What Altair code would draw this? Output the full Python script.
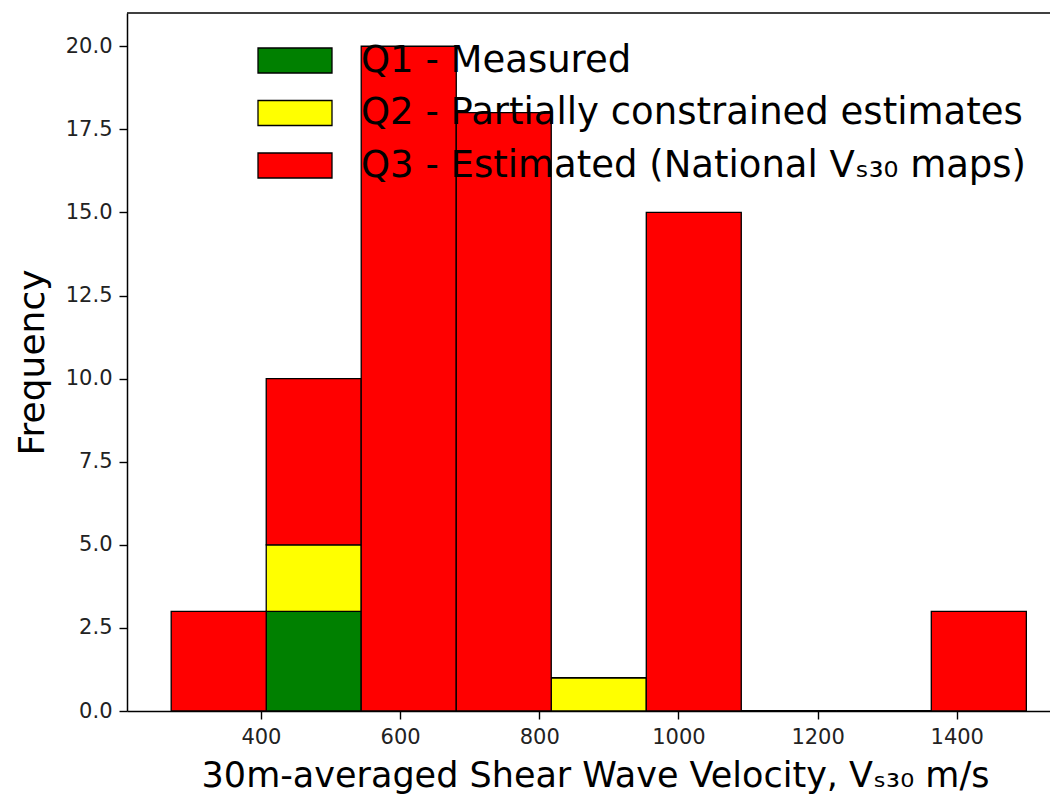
import altair as alt
import pandas as pd

# Histogram bin edges (m/s) and per-bin counts for each data-quality class
bin_edges = [271.0, 407.6, 544.1, 680.7, 817.2, 953.8, 1090.3, 1226.9, 1363.4, 1500.0]
q1_counts = [0, 3, 0, 0, 0, 0, 0, 0, 0]
q2_counts = [0, 2, 0, 0, 1, 0, 0, 0, 0]
q3_counts = [3, 5, 20, 18, 0, 15, 0, 0, 3]

series_names = [
    "Q1 - Measured",
    "Q2 - Partially constrained estimates",
    "Q3 - Estimated (National V\u209b\u2083\u2080 maps)",
]
series_colors = ["#008000", "#ffff00", "#ff0000"]
x_ticks = [400, 600, 800, 1000, 1200, 1400]
y_ticks = [0, 2.5, 5, 7.5, 10, 12.5, 15, 17.5, 20]

# Build stacked rectangles: each class sits on top of the previous ones
rows = []
base = [0] * (len(bin_edges) - 1)
for k, counts in enumerate([q1_counts, q2_counts, q3_counts]):
    for i, c in enumerate(counts):
        rows.append({
            "series": series_names[k],
            "order": k,
            "x0": bin_edges[i],
            "x1": bin_edges[i + 1],
            "y0": base[i],
            "y1": base[i] + c,
        })
        base[i] += c
df = pd.DataFrame(rows)

FONT = "DejaVu Sans"
x_scale = alt.Scale(domain=[207.5, 1534], nice=False, zero=False)
y_scale = alt.Scale(domain=[0, 21], nice=False)

bars = alt.Chart(df).mark_rect(stroke="black", strokeWidth=1.3, opacity=1).encode(
    x=alt.X(
        "x0:Q",
        scale=x_scale,
        axis=alt.Axis(
            values=x_ticks,
            format="d",
            title="30m-averaged Shear Wave Velocity, V\u209b\u2083\u2080 m/s",
            titleFontSize=35,
            titleFontWeight="normal",
            titleFont=FONT,
            titleColor="black",
            titleX=468,
            titleY=75,
            titleBaseline="alphabetic",
            labelFontSize=21,
            labelFont=FONT,
            labelColor="#222222",
            labelPadding=7,
            tickSize=8,
            tickWidth=1.4,
            tickColor="black",
            domainColor="black",
            domainWidth=1.5,
            grid=False,
            labelFlush=False,
        ),
    ),
    x2="x1:Q",
    y=alt.Y(
        "y0:Q",
        scale=y_scale,
        axis=alt.Axis(
            values=y_ticks,
            format=".1f",
            title="Frequency",
            titleFontSize=36,
            titleFontWeight="normal",
            titleFont=FONT,
            titleColor="black",
            titleX=-76,
            titleBaseline="bottom",
            labelFontSize=21,
            labelFont=FONT,
            labelColor="#222222",
            labelPadding=7,
            tickSize=8,
            tickWidth=1.4,
            tickColor="black",
            domainColor="black",
            domainWidth=1.5,
            grid=False,
            labelFlush=False,
        ),
    ),
    y2="y1:Q",
    color=alt.Color(
        "series:N",
        scale=alt.Scale(domain=series_names, range=series_colors),
        legend=alt.Legend(
            title=None,
            orient="none",
            legendX=148.5,
            legendY=28,
            padding=0,
            symbolType="M-2,-0.676L2,-0.676L2,0.676L-2,0.676Z",
            symbolSize=1369,
            symbolStrokeColor="black",
            symbolStrokeWidth=1.3,
            symbolOpacity=1,
            labelFontSize=37,
            labelFont=FONT,
            labelColor="black",
            labelOffset=46.5,
            labelLimit=2000,
            rowPadding=14.5,
        ),
    ),
    order=alt.Order("order:Q"),
)

# Top frame line of the axes box
top_line = alt.Chart(pd.DataFrame({"top": [21]})).mark_rule(
    color="black", strokeWidth=1.5
).encode(y=alt.Y("top:Q", scale=y_scale))

chart = (
    alt.layer(bars, top_line)
    .properties(
        width=923,
        height=698,
        autosize=alt.AutoSizeParams(type="none"),
        padding={"left": 127, "top": 13, "right": 0, "bottom": 84},
        background="white",
    )
    .configure_view(stroke=None)
)

chart.save("out.html", embed_options={"renderer": "svg", "actions": False})
